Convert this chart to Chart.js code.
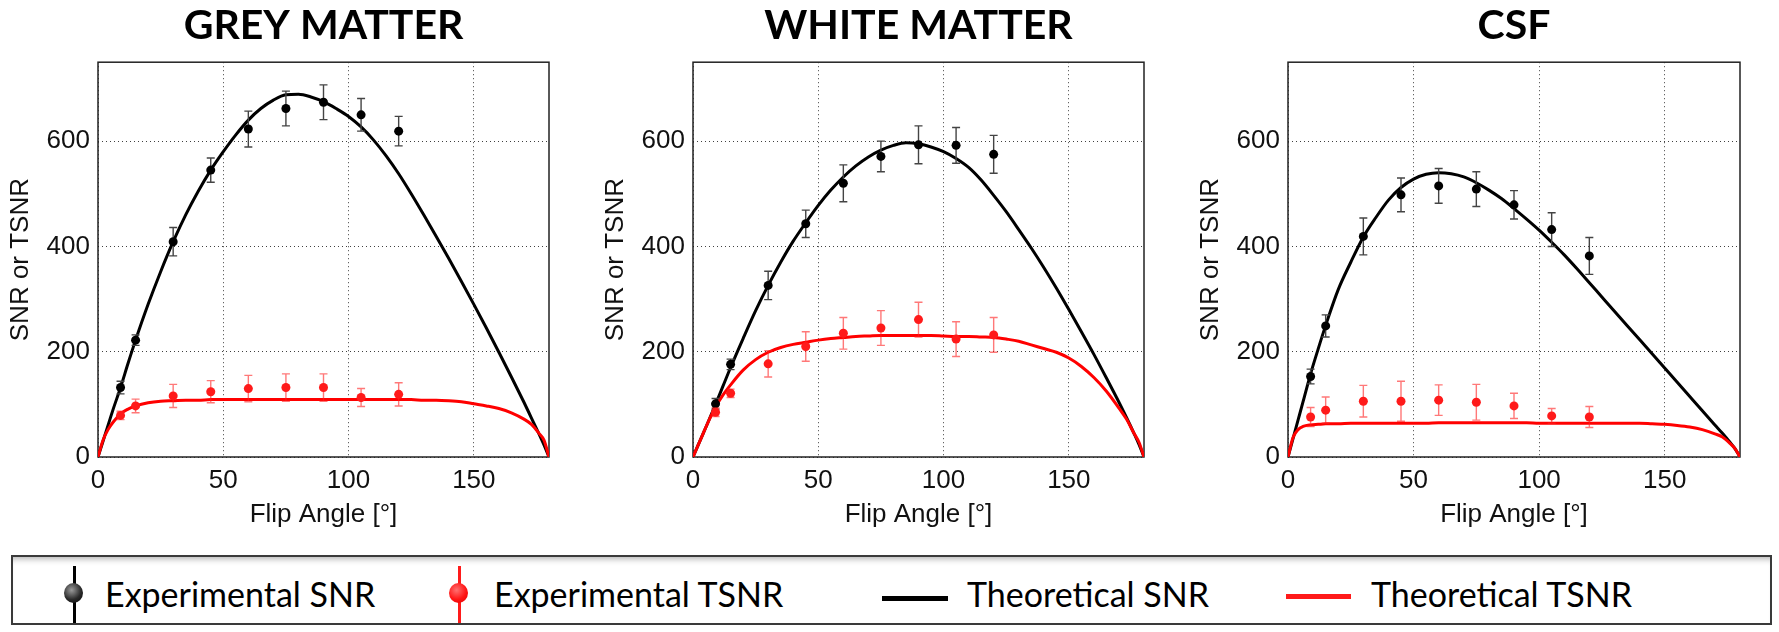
<!DOCTYPE html>
<html>
<head>
<meta charset="utf-8">
<title>SNR vs flip angle</title>
<script src="https://cdn.jsdelivr.net/npm/chart.js@4.4.0/dist/chart.umd.min.js"></script>
<style>
  body { margin: 0; width: 1779px; height: 632px; overflow: hidden; background: #fff; position: relative; }
  canvas.panel { position: absolute; top: 0; }
  #legend { position: absolute; left: 11px; top: 555px; width: 1761px; height: 70px; box-sizing: border-box;
            border: 2px solid #3a3a3a; background: #fff; box-shadow: inset 0 7px 6px -5px rgba(0,0,0,0.3); }
  .lg-text { position: absolute; top: 574px; font-family: Lato, "Open Sans", sans-serif; font-size: 34px;
             line-height: 40px; color: #000; white-space: nowrap; }
  .lg-bar { position: absolute; top: 566px; width: 3px; height: 57px; }
  .lg-dot { position: absolute; top: 583px; width: 19px; height: 20px; border-radius: 50%; }
  .lg-line { position: absolute; height: 5px; }
</style>
</head>
<body>
<canvas id="gm" class="panel" width="570" height="545" style="left:0px"></canvas>
<canvas id="wm" class="panel" width="570" height="545" style="left:595px"></canvas>
<canvas id="csf" class="panel" width="589" height="545" style="left:1190px"></canvas>

<div id="legend"></div>
<div class="lg-bar" style="left:73px; background:#000"></div>
<div class="lg-dot" style="left:64px; background:radial-gradient(circle at 40% 35%, #9a9a9a, #2a2a2a 55%, #000)"></div>
<div class="lg-text" style="left:105px">Experimental SNR</div>
<div class="lg-bar" style="left:458px; background:#ff1a1a"></div>
<div class="lg-dot" style="left:449px; background:radial-gradient(circle at 40% 35%, #ff7070, #ff1414 55%, #e00000)"></div>
<div class="lg-text" style="left:494px">Experimental TSNR</div>
<div class="lg-line" style="left:882px; top:596px; width:66px; background:#000"></div>
<div class="lg-text" style="left:967px">Theoretical SNR</div>
<div class="lg-line" style="left:1286px; top:594px; width:65px; background:#ff1a1a"></div>
<div class="lg-text" style="left:1371px">Theoretical TSNR</div>

<script>
// measured flip angles (degrees)
var angles = [9, 15, 30, 45, 60, 75, 90, 105, 120];
var xTicks = [0, 50, 100, 150];
var yTicks = [0, 200, 400, 600];

// grey matter
var gmSnr = [132, 222, 409, 545, 623, 662, 674, 650, 619];
var gmSnrErr = [12, 10, 27, 23, 34, 33, 33, 31, 28];
var gmTsnr = [79, 97, 116, 124, 130, 132, 132, 113, 119];
var gmTsnrErr = [8, 13, 22, 21, 25, 26, 26, 17, 22];

// white matter
var wmSnr = [101, 176, 326, 443, 520, 571, 593, 592, 575];
var wmSnrErr = [10, 10, 27, 26, 35, 29, 36, 34, 36];
var wmTsnr = [85, 121, 177, 210, 235, 245, 261, 224, 232];
var wmTsnrErr = [8, 8, 25, 28, 30, 33, 33, 33, 33];

// csf
var csfSnr = [153, 249, 419, 498, 515, 509, 479, 432, 382];
var csfSnrErr = [14, 21, 35, 32, 33, 33, 27, 32, 35];
var csfTsnr = [76, 89, 106, 106, 108, 104, 97, 78, 76];
var csfTsnrErr = [18, 25, 30, 38, 29, 34, 24, 14, 20];

// theoretical curves
var theoryAngles = [0, 2, 4, 6, 9, 12, 15, 20, 25, 30, 35, 40, 45, 50, 55, 60, 65, 70, 75, 80, 85,
  90, 95, 100, 105, 110, 115, 120, 125, 130, 135, 140, 145, 150, 155, 160, 165, 170, 173, 176, 178, 180];

var gmSnrTheory = [0, 30, 60, 90, 132, 178, 222, 290, 352, 409, 460, 505, 545, 580, 612, 640, 662, 678, 688, 689, 684,
  675, 662, 647, 627, 602, 572, 538, 500, 460, 419, 377, 334, 290, 245, 199, 152, 104, 74, 44, 23, 0];
var gmTsnrTheory = [0, 32, 52, 66, 82, 91, 97, 103, 106, 107, 108, 108, 109, 109, 109, 109, 109, 109, 109, 109, 109,
  109, 109, 109, 109, 109, 109, 109, 109, 108, 108, 107, 105, 101, 97, 92, 84, 72, 62, 45, 32, 0];

var wmSnrTheory = [0, 22, 44, 66, 100, 135, 170, 225, 278, 326, 370, 410, 445, 478, 507, 532, 553, 570, 583, 592, 597,
  595, 589, 580, 567, 550, 526, 497, 466, 432, 397, 360, 321, 280, 238, 195, 150, 104, 75, 45, 24, 0];
var wmTsnrTheory = [0, 22, 44, 66, 95, 118, 137, 165, 185, 199, 208, 214, 218, 222, 225, 227, 229, 230, 231, 231, 231,
  231, 231, 230, 229, 229, 228, 227, 224, 220, 213, 206, 199, 188, 172, 151, 125, 93, 72, 45, 28, 0];

var csfSnrTheory = [0, 35, 70, 105, 158, 205, 250, 318, 370, 418, 455, 488, 512, 528, 537, 540, 538, 532, 521, 507, 491,
  472, 452, 431, 408, 384, 358, 331, 304, 277, 250, 223, 196, 169, 142, 115, 88, 61, 45, 28, 16, 0];
var csfTsnrTheory = [0, 37, 52, 58, 61, 62, 63, 63, 64, 64, 64, 64, 64, 64, 64, 65, 65, 65, 65, 65, 65,
  65, 65, 64, 64, 64, 64, 64, 64, 64, 64, 64, 63, 62, 60, 57, 52, 44, 38, 26, 16, 0];

var axisFont = { family: "'Liberation Sans', Arial, sans-serif", size: 26 };

// box round the plot area, like matlab axes
var panelFrame = {
  id: 'panelFrame',
  beforeDatasetsDraw: function(chart) {
    var a = chart.chartArea, ctx = chart.ctx;
    ctx.save();
    ctx.strokeStyle = '#222';
    ctx.lineWidth = 1.5;
    ctx.strokeRect(a.left, a.top, a.right - a.left, a.bottom - a.top);
    ctx.restore();
  }
};

// vertical error bars with small caps
var errorBars = {
  id: 'errorBars',
  beforeDatasetDraw: function(chart, args) {
    var ds = chart.data.datasets[args.index];
    if (!ds.errorBars) return;
    var ctx = chart.ctx, xs = chart.scales.x, ys = chart.scales.y;
    ctx.save();
    ctx.strokeStyle = ds.errorColor;
    ctx.lineWidth = 1.4;
    ds.data.forEach(function(p, i) {
      var x = xs.getPixelForValue(p.x);
      var y1 = ys.getPixelForValue(p.y - ds.errorBars[i]);
      var y2 = ys.getPixelForValue(p.y + ds.errorBars[i]);
      ctx.beginPath();
      ctx.moveTo(x, y1); ctx.lineTo(x, y2);
      ctx.moveTo(x - 4, y1); ctx.lineTo(x + 4, y1);
      ctx.moveTo(x - 4, y2); ctx.lineTo(x + 4, y2);
      ctx.stroke();
    });
    ctx.restore();
  }
};

function toPoints(xs, ys) {
  return xs.map(function(x, i) { return { x: x, y: ys[i] }; });
}

function makePanel(canvasId, title, rightPad, snr, snrErr, tsnr, tsnrErr, snrTheory, tsnrTheory) {
  return new Chart(document.getElementById(canvasId), {
    type: 'scatter',
    data: {
      datasets: [
        { label: 'Experimental TSNR', data: toPoints(angles, tsnr), errorBars: tsnrErr, errorColor: 'rgba(255,30,30,0.6)',
          pointRadius: 4.5, pointBackgroundColor: '#ff1a1a', borderColor: '#ff1a1a', pointBorderWidth: 0 },
        { label: 'Experimental SNR', data: toPoints(angles, snr), errorBars: snrErr, errorColor: '#444',
          pointRadius: 4.5, pointBackgroundColor: '#000', borderColor: '#000', pointBorderWidth: 0 },
        { label: 'Theoretical TSNR', data: toPoints(theoryAngles, tsnrTheory), showLine: true, borderColor: '#ff0000',
          borderWidth: 3, pointRadius: 0, cubicInterpolationMode: 'monotone' },
        { label: 'Theoretical SNR', data: toPoints(theoryAngles, snrTheory), showLine: true, borderColor: '#000',
          borderWidth: 3, pointRadius: 0, cubicInterpolationMode: 'monotone' }
      ]
    },
    options: {
      responsive: false,
      animation: false,
      devicePixelRatio: 1,
      layout: { padding: { left: 0, right: rightPad, top: 0, bottom: 0 } },
      plugins: {
        legend: { display: false },
        tooltip: { enabled: false },
        title: {
          display: true, text: title, fullSize: false, color: '#000',
          font: { family: 'Lato, sans-serif', weight: 'bold', size: 41 },
          padding: { top: 1, bottom: 12 }
        }
      },
      scales: {
        x: {
          type: 'linear', min: 0, max: 180,
          afterBuildTicks: function(s) { s.ticks = xTicks.map(function(v) { return { value: v }; }); },
          afterFit: function(s) { s.height = 88; },
          ticks: { color: '#111', font: axisFont, padding: 8 },
          grid: { color: 'rgba(0,0,0,0.75)', lineWidth: 1, drawTicks: false },
          border: { display: false, dash: [1, 3] },
          title: { display: true, text: 'Flip Angle [°]', color: '#111', font: axisFont, padding: { top: 0, bottom: 15 } }
        },
        y: {
          type: 'linear', min: 0, max: 750,
          afterBuildTicks: function(s) { s.ticks = yTicks.map(function(v) { return { value: v }; }); },
          afterFit: function(s) { s.width = 98; },
          ticks: { color: '#111', font: axisFont, padding: 8 },
          grid: { color: 'rgba(0,0,0,0.75)', lineWidth: 1, drawTicks: false },
          border: { display: false, dash: [1, 3] },
          title: { display: true, text: 'SNR or TSNR', color: '#111', font: axisFont, padding: { top: 5.5, bottom: 0 } }
        }
      }
    },
    plugins: [panelFrame, errorBars]
  });
}

makePanel('gm', 'GREY MATTER', 21, gmSnr, gmSnrErr, gmTsnr, gmTsnrErr, gmSnrTheory, gmTsnrTheory);
makePanel('wm', 'WHITE MATTER', 21, wmSnr, wmSnrErr, wmTsnr, wmTsnrErr, wmSnrTheory, wmTsnrTheory);
makePanel('csf', 'CSF', 39, csfSnr, csfSnrErr, csfTsnr, csfTsnrErr, csfSnrTheory, csfTsnrTheory);
</script>
</body>
</html>
